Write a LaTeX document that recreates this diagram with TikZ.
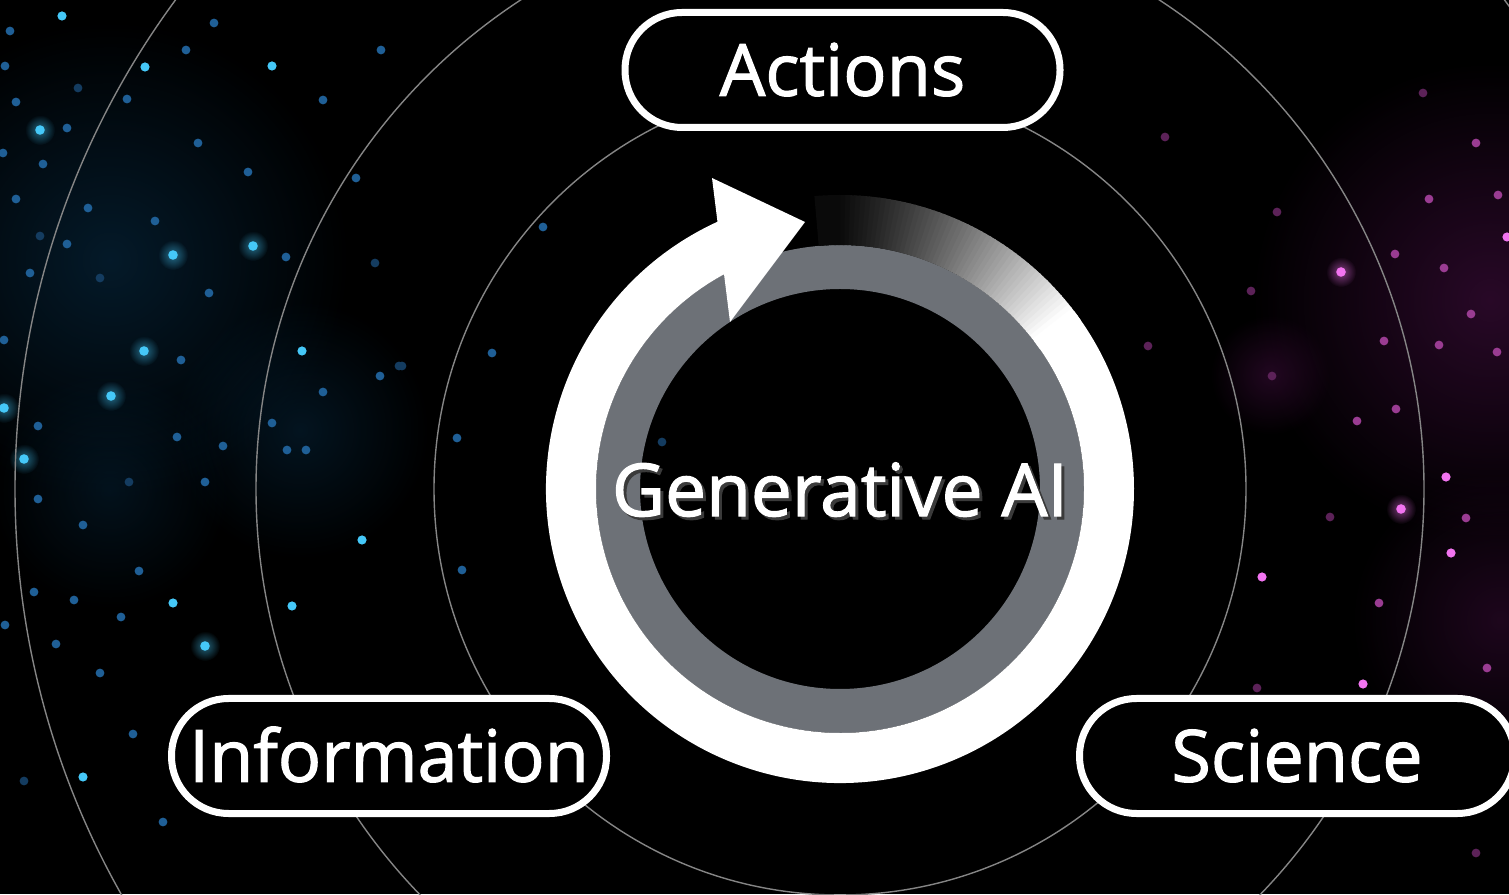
\documentclass[tikz,border=0pt]{standalone}
\usepackage{fontspec}
\setmainfont{Open Sans}
\newfontfamily\labelfont[FakeBold=1.6]{Open Sans}
\usetikzlibrary{fadings}
\tikzfading[name=glowfade, inner color=transparent!0, outer color=transparent!100]
\definecolor{ringgray}{HTML}{6D7177}
\definecolor{orbit}{HTML}{858585}
\definecolor{bluehi}{HTML}{45C8F8}
\definecolor{bluelo}{HTML}{1F5F96}
\definecolor{bluefaint}{HTML}{143C60}
\definecolor{bluehaze}{HTML}{0A3A5C}
\definecolor{pinkhi}{HTML}{F274F0}
\definecolor{pinklo}{HTML}{9A3C92}
\definecolor{pinkfaint}{HTML}{5C2258}
\definecolor{pinkhaze}{HTML}{4A1048}
\definecolor{shadowgray}{HTML}{3A3A3A}
\tikzset{
  pill/.style={draw=white, line width=7pt, fill=black, rounded corners=57pt,
    minimum width=435pt, minimum height=115pt, inner sep=0pt, text=white,
    font=\labelfont\fontsize{72}{80}\selectfont, text height=51.4pt, text depth=0pt},
  centretext/.style={inner sep=0pt, font=\labelfont\fontsize{73}{82}\selectfont,
    text height=52.1pt, text depth=0pt},
  orbitline/.style={draw=orbit, line width=1.4pt},
  haze/.style={path fading=glowfade},
}
\begin{document}
\begin{tikzpicture}[x=1pt,y=1pt]
\useasboundingbox (0,0) rectangle (1509,894);
\clip (0,0) rectangle (1509,894);
\fill[black] (0,0) rectangle (1509,894);
% ---- background haze and stars (image coordinates, y down) ----
\begin{scope}[shift={(0,894)}, yscale=-1]
  \fill[bluehaze, haze, opacity=0.45] (110,260) circle (240);
  \fill[bluehaze, haze, opacity=0.35] (300,430) circle (130);
  \fill[bluehaze, haze, opacity=0.3] (110,490) circle (120);
  \fill[pinkhaze, haze, opacity=0.55] (1490,300) circle (240);
  \fill[pinkhaze, haze, opacity=0.45] (1270,375) circle (60);
  \fill[pinkhaze, haze, opacity=0.4] (1500,620) circle (150);
  \foreach \x/\y in {40/130, 173/255, 253/246, 144/351, 4/408, 24/459, 205/646, 111/396}{
    \fill[bluehi, haze, opacity=0.5] (\x,\y) circle (15);
    \fill[bluehi] (\x,\y) circle (4.8);
  }
  \foreach \x/\y in {62/16, 145/67, 272/66, 302/351, 173/603, 362/540, 292/606, 83/777}
    \fill[bluehi] (\x,\y) circle (4.6);
  \foreach \x/\y in {10/31, 5/66, 186/50, 214/23, 381/50, 127/99, 323/100, 16/102, 67/128,
    198/143, 3/153, 43/164, 248/172, 356/178, 16/199, 88/208, 155/221, 67/244, 286/257,
    30/273, 209/293, 4/340, 181/360, 380/376, 323/392, 38/426, 177/437, 272/423, 223/446,
    287/450, 306/450, 38/499, 205/482, 83/525, 139/571, 34/592, 74/600, 121/617, 5/625,
    56/644, 100/673, 133/734, 163/822, 543/227, 492/353, 457/438, 462/570}
    \fill[bluelo] (\x,\y) circle (4.4);
  \foreach \x/\y in {78/88, 40/236, 100/278, 375/263, 399/366, 129/482, 24/781, 662/442, 402/366}
    \fill[bluefaint] (\x,\y) circle (4.4);
  \foreach \x/\y in {1341/272, 1401/509}{
    \fill[pinkhi, haze, opacity=0.5] (\x,\y) circle (15);
    \fill[pinkhi] (\x,\y) circle (4.8);
  }
  \foreach \x/\y in {1507/237, 1446/477, 1451/553, 1262/577, 1363/684}
    \fill[pinkhi] (\x,\y) circle (4.6);
  \foreach \x/\y in {1429/199, 1498/195, 1395/254, 1444/268, 1471/314, 1384/341, 1439/345,
    1497/352, 1396/409, 1357/421, 1466/518, 1379/603, 1487/668, 1476/143}
    \fill[pinklo] (\x,\y) circle (4.4);
  \foreach \x/\y in {1165/137, 1277/212, 1251/291, 1148/346, 1272/376, 1330/517, 1257/688,
    1476/853, 1423/93}
    \fill[pinkfaint] (\x,\y) circle (4.4);
\end{scope}
% ---- orbits ----
\coordinate (C) at (840,405);
\draw[orbitline] (C) circle (406);
\draw[orbitline] (C) circle (584);
\draw[orbitline] (C) circle (825);
% ---- cycle ring ----
\begin{scope}[shift={(840,405)}]
  \fill[ringgray, even odd rule] (0,0) circle (244) (0,0) circle (200);
  \foreach \i in {0,...,59}{
    \pgfmathsetmacro\aa{35+\i}
    \pgfmathsetmacro\bb{min(36.3+\i,95)}
    \pgfmathsetmacro\pp{max(4,100*min(1,(max(0.001,(95-\aa-0.5)/57))^1.3))}
    \fill[white!\pp!black] (\aa:294) arc[start angle=\aa, end angle=\bb, radius=294]
      -- (\bb:244) arc[start angle=\bb, end angle=\aa, radius=244] -- cycle;
  }
  \fill[white] (112.5:294) arc[start angle=112.5, end angle=397, radius=294]
     -- (397:244) arc[start angle=397, end angle=116.5, radius=244] -- cycle;
  \fill[white] (-128,311) -- (-35,267) -- (-110,167) -- cycle;
\end{scope}
% ---- labels ----
\node[pill] (actions) at (842.5,824) {Actions};
\node[pill] (information) at (389,138) {Information};
\node[pill] (science) at (1297,138) {Science};
\node[centretext, text=shadowgray] (genaishadow) at (843,401) {Generative AI};
\node[centretext, text=white] (genai) at (840,404) {Generative AI};
\end{tikzpicture}
\end{document}
